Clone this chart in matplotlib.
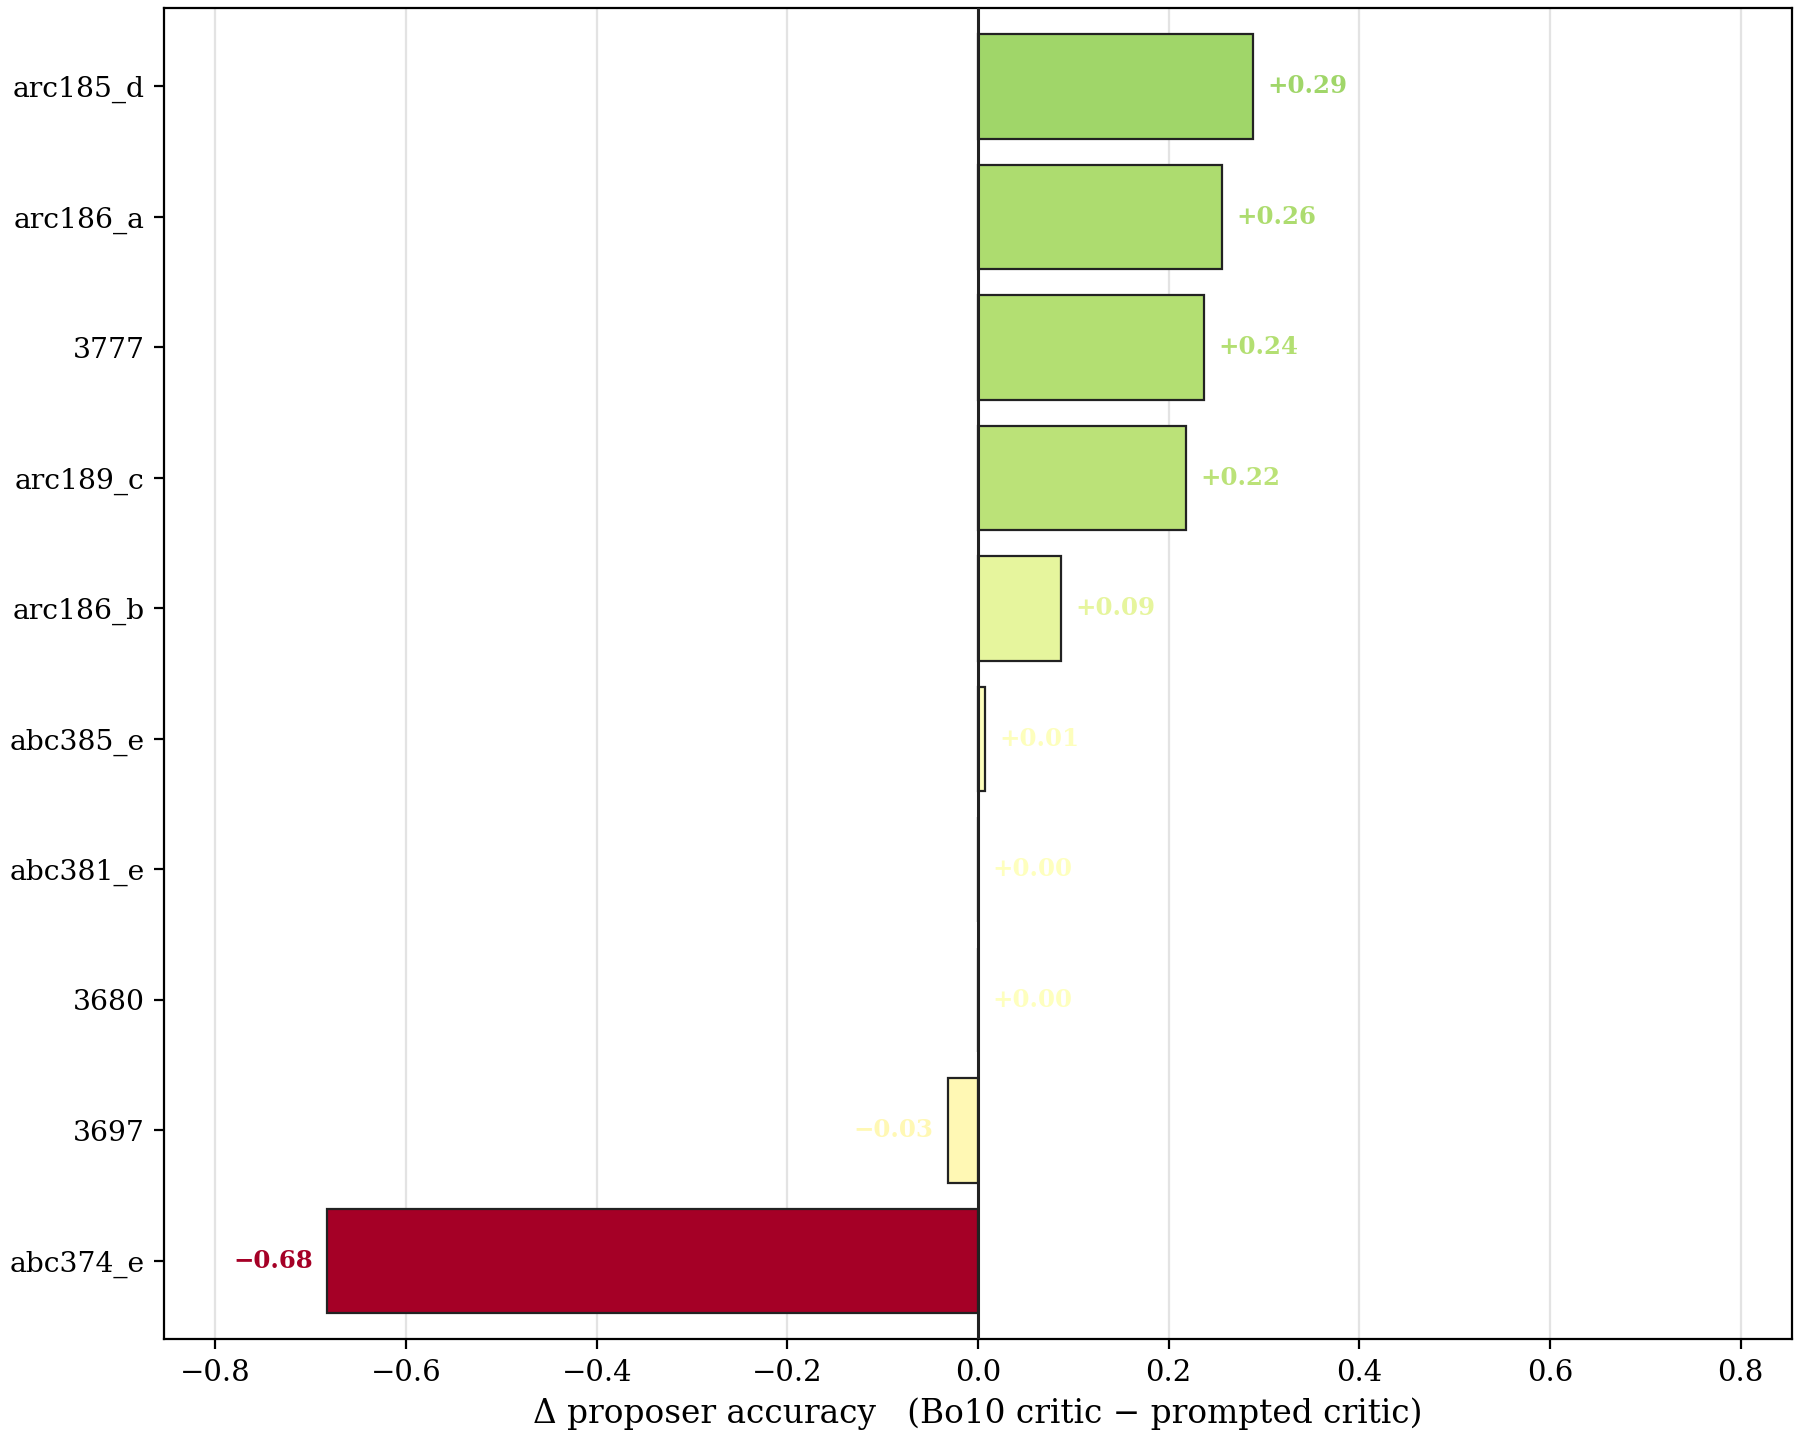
import matplotlib
matplotlib.use("Agg")
import matplotlib.pyplot as plt
from matplotlib import colors

# ----------------------------
# Data
# ----------------------------
TASKS = ["arc185_d", "arc186_a", "3777", "arc189_c", "arc186_b",
         "abc385_e", "abc381_e", "3680", "3697", "abc374_e"]
DELTAS = [0.288, 0.256, 0.237, 0.218, 0.087, 0.007, 0.0, 0.0, -0.032, -0.683]

XLABEL = "Δ proposer accuracy   (Bo10 critic − prompted critic)"

# ----------------------------
# Look
# ----------------------------
FIGSIZE = (9.0, 7.19)
DPI = 200
BAR_HEIGHT = 0.8
BAR_EDGE = "#222222"
ZERO_LINE_COLOR = "#222222"
GRID_COLOR = "#e3e3e3"

plt.rcParams["font.family"] = ["DejaVu Serif"]

vmax = max(abs(d) for d in DELTAS)
norm = colors.Normalize(vmin=-vmax, vmax=vmax)
cmap = matplotlib.colormaps["RdYlGn"]
bar_colors = [cmap(norm(d)) for d in DELTAS]

fig = plt.figure(figsize=FIGSIZE, dpi=DPI)
left, right, top, bottom = 143 / 1568, 1561 / 1568, 7 / 1252, 1166 / 1252
ax = fig.add_axes([left, 1 - bottom, right - left, bottom - top])

ypos = list(range(len(TASKS)))
ax.barh(ypos, DELTAS, height=BAR_HEIGHT, color=bar_colors,
        edgecolor=BAR_EDGE, linewidth=0.8, zorder=2)
ax.axvline(0, color=ZERO_LINE_COLOR, linewidth=1.1, zorder=3)

pad = 0.015
for y, d, c in zip(ypos, DELTAS, bar_colors):
    label = f"{d:+.2f}".replace("-", "−")
    if d >= 0:
        ax.text(d + pad, y, label, va="center", ha="left", color=c,
                fontsize=8.8, fontweight="bold", zorder=4)
    else:
        ax.text(d - pad, y, label, va="center", ha="right", color=c,
                fontsize=8.8, fontweight="bold", zorder=4)

ax.set_yticks(ypos)
ax.set_yticklabels(TASKS, fontsize=10.2)
ax.set_ylim(len(TASKS) - 0.4, -0.6)
lim = vmax * 1.25
ax.set_xlim(-lim, lim)
ax.set_xticks([-0.8, -0.6, -0.4, -0.2, 0.0, 0.2, 0.4, 0.6, 0.8])
ax.tick_params(axis="x", labelsize=10.5)
ax.xaxis.grid(True, color=GRID_COLOR, linewidth=0.8, zorder=0)
ax.set_axisbelow(True)
ax.set_xlabel(XLABEL, fontsize=11.8)

fig.savefig("out.png", dpi=DPI)
